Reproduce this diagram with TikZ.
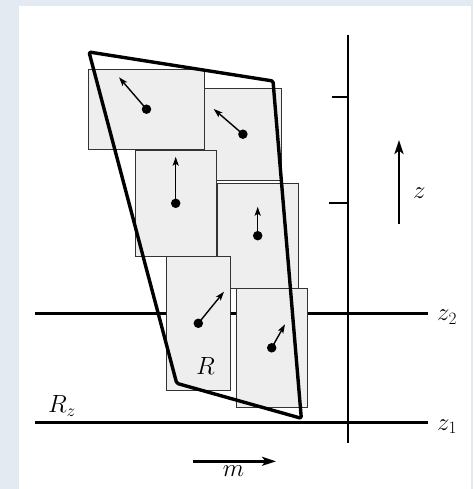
\documentclass[tikz,border=0pt]{standalone}
\usepackage{amsmath}
\usepackage{tikz}
\usetikzlibrary{arrows.meta,positioning,calc}
\definecolor{pagebg}{HTML}{E3EAF2}
\definecolor{cellfill}{HTML}{EEEEEE}

\begin{document}
\begin{tikzpicture}[
  x=1pt, y=-1pt,
  font=\fontsize{23}{28}\selectfont,
  cell/.style={draw=black!80, fill=cellfill, line width=0.9pt, inner sep=0pt, outer sep=0pt},
  dot/.style={circle, fill=black, inner sep=0pt, minimum size=9.5pt},
  spin/.style={-{Stealth[length=9pt,width=6pt,inset=2pt]}, line width=1.4pt},
  bigarrow/.style={-{Stealth[length=14pt,width=9pt,inset=3.5pt]}, line width=2.7pt},
  level/.style={line width=3pt},
  outline/.style={line width=3.4pt, line join=round, rounded corners=1.5pt},
  label/.style={inner sep=0pt, anchor=base west}
]
  % page
  \fill[pagebg] (0,0) rectangle (473,489);
  \fill[white] (19,6) rectangle (471,489);
  \useasboundingbox (0,0) rectangle (473,489);

  % levels and axis
  \coordinate (z2left) at (35,313.3);
  \coordinate (z2right) at (428.3,313.3);
  \coordinate (z1left) at (35,422.3);
  \coordinate (z1right) at (428.3,422.3);
  \draw[level] (z2left) -- (z2right);
  \draw[level] (z1left) -- (z1right);
  \coordinate (axistop) at (348.3,35);
  \coordinate (axisbot) at (348.3,443.3);
  \draw[line width=1.9pt] (axistop) -- (axisbot);
  \coordinate (tickA) at (331.7,97.3);
  \coordinate (tickB) at (329.3,203.3);
  \draw[line width=1.9pt] (tickA) -- (tickA -| axistop);
  \draw[line width=1.9pt] (tickB) -- (tickB -| axistop);

  % cells
  \node[cell, minimum width=116.4pt, minimum height=79.7pt] (c1) at (146.5,109.2) {};
  \node[cell, minimum width=76.3pt, minimum height=91.7pt] (c2) at (242.9,134.2) {};
  \node[cell, minimum width=80.7pt, minimum height=105.3pt] (c3) at (175.7,203.3) {};
  \node[cell, minimum width=81.3pt, minimum height=105.3pt] (c4) at (257.7,235.7) {};
  \node[cell, minimum width=63.3pt, minimum height=133.3pt] (c5) at (198.3,323.3) {};
  \node[cell, minimum width=70.7pt, minimum height=119pt] (c6) at (271.7,347.8) {};

  % moments
  \node[dot] (d1) at (c1.center) {};
  \node[dot] (d2) at (c2.center) {};
  \node[dot] (d3) at (c3.center) {};
  \node[dot] (d4) at (c4.center) {};
  \node[dot] (d5) at (c5.center) {};
  \node[dot] (d6) at (c6.center) {};
  \coordinate (t1) at (119,77.3);
  \coordinate (t2) at (213.7,109);
  \coordinate (t3) at (175.7,156.7);
  \coordinate (t4) at (257.7,206.7);
  \coordinate (t5) at (224,291.7);
  \coordinate (t6) at (285,324.3);
  \draw[spin] (d1.center) -- (t1);
  \draw[spin] (d2.center) -- (t2);
  \draw[spin] (d3.center) -- (t3);
  \draw[spin] (d4.center) -- (t4);
  \draw[spin] (d5.center) -- (t5);
  \draw[spin] (d6.center) -- (t6);

  % region R
  \coordinate (q1) at (89,52);
  \coordinate (q2) at (273,81);
  \coordinate (q3) at (301.3,418.3);
  \coordinate (q4) at (176.7,383.3);
  \draw[outline] (q1) -- (q2) -- ($(q2)!0.02!(q3)$) -- (q3) -- (q4) -- cycle;

  % direction arrows
  \coordinate (zfrom) at (399,224);
  \coordinate (zto) at (399,140);
  \draw[bigarrow] (zfrom) -- (zto);
  \coordinate (mfrom) at (192.7,461.3);
  \coordinate (mto) at (276,461.3);
  \draw[bigarrow] (mfrom) -- (mto);

  % labels
  \node[label] (lz) at (413,198.3) {$z$};
  \node[label] (lz2) at (437,320.5) {$z_2$};
  \node[label] (lz1) at (437,430) {$z_1$};
  \node[label] (lRz) at (48,412.7) {$R_z$};
  \node[label] (lR) at (196,374) {$R$};
  \node[label] (lm) at (222.7,476.7) {$m$};
\end{tikzpicture}
\end{document}
